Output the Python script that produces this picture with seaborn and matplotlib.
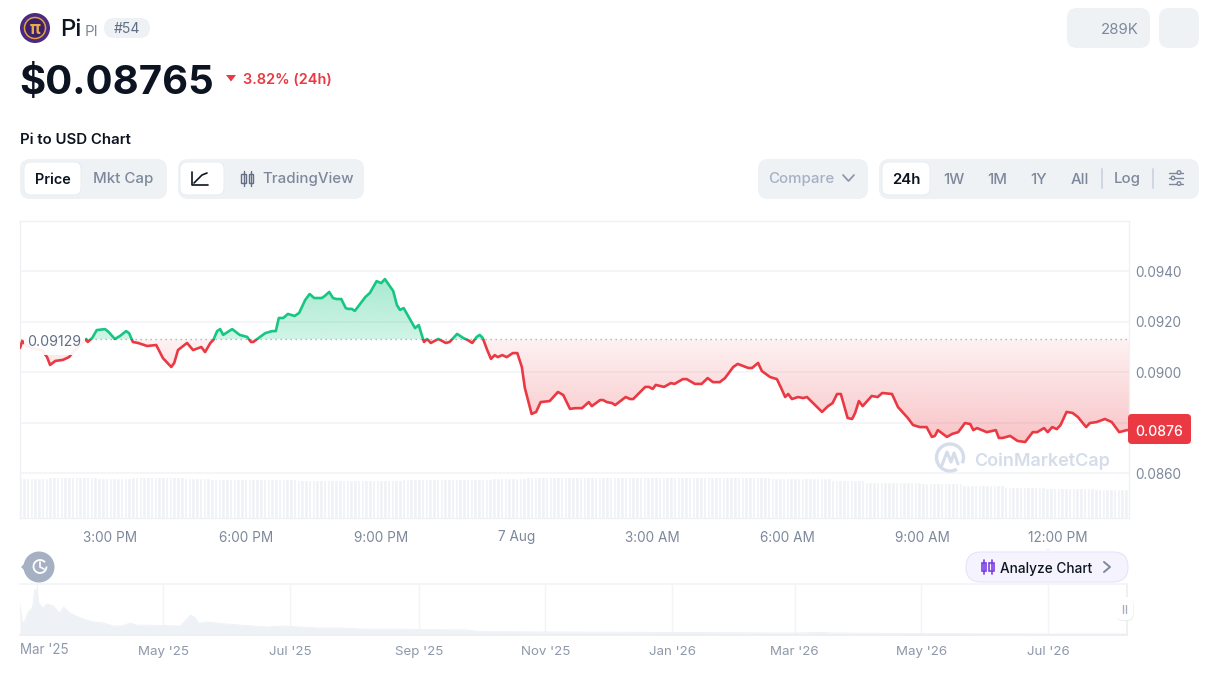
import numpy as np
import seaborn as sns
import matplotlib
matplotlib.use("Agg")
import matplotlib.pyplot as plt
from matplotlib.patches import FancyBboxPatch, Circle, Rectangle, Polygon, Arc

# 24h price, minutes after 1:00 PM on 6 Aug
minutes = [0, 3, 9, 20, 29, 36, 40, 47, 57, 65, 72, 80, 88, 90, 96, 102, 113, 118, 126, 133, 141, 145, 150, 157, 169, 181,
           190, 201, 205, 210, 222, 230, 241, 246, 253, 257, 262, 266, 270, 282, 292, 302, 307, 310, 319, 326, 335, 340,
           344, 350, 356, 365, 371, 379, 385, 391, 401, 405, 411, 416, 421, 427, 433, 436, 441, 445, 459, 465, 474, 480,
           485, 496, 501, 505, 510, 525, 530, 536, 537, 541, 546, 556, 566, 571, 581, 589, 595, 601, 607, 611, 615, 621,
           626, 631, 635, 641, 647, 655, 661, 667, 671, 680, 686, 692, 704, 715, 722, 731, 738, 747, 756, 760, 771, 775,
           780, 787, 791, 805, 811, 815, 831, 836, 841, 845, 856, 865, 870, 881, 886, 897, 906, 914, 921, 930, 937, 948,
           954, 968, 973, 981, 986, 997, 1006, 1011, 1017, 1021, 1026, 1034, 1041, 1046, 1066, 1074, 1080, 1086, 1091,
           1100, 1106, 1110, 1115, 1120, 1132, 1140, 1146, 1159, 1167, 1180, 1187, 1196, 1205, 1212, 1216, 1220, 1232,
           1239, 1247, 1256, 1263, 1267, 1272, 1285, 1297, 1301, 1306, 1316, 1326, 1336, 1346, 1352, 1361, 1366, 1372,
           1378, 1383, 1391, 1399, 1406, 1417, 1422, 1431, 1442, 1451, 1461, 1466, 1471, 1474]
prices = [.09095, .09123, .09103, .09091, .09087, .09059, .09028, .09044, .09048, .09059, .09083, .09107, .09131, .09119,
          .09135, .09166, .09170, .09158, .09131, .09143, .09162, .09154, .09119, .09115, .09103, .09107, .09055, .09020,
          .09036, .09087, .09115, .09087, .09099, .09079, .09115, .09127, .09162, .09170, .09147, .09170, .09147, .09139,
          .09119, .09119, .09139, .09154, .09162, .09162, .09214, .09214, .09230, .09222, .09234, .09285, .09309, .09293,
          .09293, .09301, .09317, .09293, .09289, .09289, .09253, .09250, .09250, .09242, .09297, .09313, .09360, .09352,
          .09368, .09321, .09265, .09246, .09253, .09174, .09186, .09127, .09119, .09131, .09115, .09131, .09115, .09119,
          .09151, .09135, .09127, .09115, .09139, .09147, .09135, .09087, .09052, .09067, .09059, .09067, .09059, .09075,
          .09075, .09020, .08937, .08834, .08842, .08881, .08885, .08921, .08909, .08854, .08857, .08857, .08881, .08865,
          .08889, .08889, .08881, .08877, .08869, .08901, .08893, .08893, .08941, .08941, .08933, .08949, .08941, .08956,
          .08953, .08972, .08972, .08953, .08953, .08976, .08960, .08960, .08976, .09020, .09032, .09016, .09016, .09036,
          .09004, .08980, .08972, .08941, .08901, .08913, .08893, .08901, .08897, .08901, .08842, .08865, .08877, .08913,
          .08913, .08818, .08814, .08838, .08885, .08865, .08905, .08901, .08917, .08913, .08861, .08818, .08790, .08782,
          .08782, .08743, .08747, .08770, .08743, .08755, .08762, .08798, .08794, .08770, .08778, .08762, .08770, .08739,
          .08739, .08747, .08727, .08723, .08762, .08762, .08778, .08762, .08782, .08774, .08790, .08842, .08838, .08822,
          .08782, .08798, .08802, .08814, .08802, .08762, .08766, .08770, .08770]
base_price = 0.09129

# volume steps: level and how many 5 minute bars stay at it
vol_levels = [40, 41, 40, 41, 40, 39, 39, 38, 38, 39, 40, 41, 40, 38, 36.5, 35, 33, 31.5, 30, 29]
vol_counts = [8, 13, 9, 14, 7, 14, 9, 7, 21, 24, 9, 65, 16, 9, 15, 11, 11, 11, 13, 10]
volume = np.repeat(vol_levels, vol_counts)
vol_minutes = np.arange(len(volume)) * 5

price_ticks = [0.0860, 0.0880, 0.0900, 0.0920, 0.0940]
price_labels = ["0.0860", "", "0.0900", "0.0920", "0.0940"]
time_ticks = [120, 300, 480, 660, 840, 1020, 1200, 1380]
time_labels = ["3:00 PM", "6:00 PM", "9:00 PM", "7 Aug", "3:00 AM", "6:00 AM", "9:00 AM", "12:00 PM"]

# all time overview, days after 1 Mar 2025
nav_days = [-8, -7, -6, -4, -2, -1, 0, 1, 3, 5, 8, 11, 13, 16, 21, 27, 32, 37, 41, 45, 48, 69, 72, 74, 76, 78, 82, 91,
            111, 118, 135, 146, 157, 164, 175, 185, 207, 213, 245, 306, 365, 377, 384, 427, 487, 525]
nav_prices = [1.65, .72, .72, 1.27, 1.49, 2.48, 2.48, 1.76, 1.49, 1.71, 1.60, 1.21, 1.54, 1.21, .94, .72, .66, .50, .50,
              .66, .55, .50, .83, 1.10, .99, .66, .72, .61, .44, .50, .39, .39, .33, .33, .33, .30, .28, .19, .17, .14,
              .11, .14, .11, .08, .06, .06]
nav_ticks = [0, 61, 122, 184, 245, 306, 365, 426, 487]
nav_labels = ["", "May '25", "Jul '25", "Sep '25", "Nov '25", "Jan '26", "Mar '26", "May '26", "Jul '26"]

green = "#16c784"
red = "#ea3943"
grey = "#7d889b"
dark = "#0d1421"
pill = "#eff2f5"
line_grey = "#f2f4f7"

sns.set_theme(style="white")
plt.rcParams["font.family"] = ["Inter", "DejaVu Sans"]

W, H = 1220, 676
fig = plt.figure(figsize=(12.2, 6.76), dpi=100, facecolor="white")


def px_axes(x0, y0, x1, y1):
    return fig.add_axes([x0 / W, 1 - y1 / H, (x1 - x0) / W, (y1 - y0) / H])


# main chart ---------------------
ax = px_axes(20, 221, 1129, 518)
ax2 = ax.twinx()
sns.barplot(x=vol_minutes, y=volume, native_scale=True, color="#eef1f5", saturation=1, width=0.94,
            errorbar=None, ax=ax2)
ax2.set_ylim(0, 297)
ax2.set_axis_off()
ax.set_zorder(ax2.get_zorder() + 1)
ax.patch.set_visible(False)

ymin, ymax = 0.08422, 0.09598
poly = ax.fill_between(minutes, prices, base_price, color="none")
clip = poly.get_paths()[0]


def gradient(rgb, a_top, a_bottom, y_top, y_bottom):
    arr = np.zeros((120, 1, 4))
    arr[:, :, :3] = matplotlib.colors.to_rgb(rgb)
    arr[:, 0, 3] = np.linspace(a_top, a_bottom, 120)
    im = ax.imshow(arr, extent=[0, 1474, y_bottom, y_top], aspect="auto", origin="upper", zorder=1.5)
    im.set_clip_path(clip, transform=ax.transData)


gradient(green, 0.38, 0.2, 0.0937, base_price)
gradient(red, 0.07, 0.3, base_price, 0.0872)

ax.axhline(base_price, color="#a6b0c3", lw=1, dashes=(1, 2.6), zorder=2)

sns.lineplot(x=minutes, y=prices, color=green, lw=1.9, errorbar=None, sort=False, ax=ax, zorder=3)
sns.lineplot(x=minutes, y=prices, color=red, lw=1.9, errorbar=None, sort=False, ax=ax, zorder=3)
ax.lines[-2].set_clip_path(Rectangle((0, base_price), 1474, 0.01, transform=ax.transData))
ax.lines[-1].set_clip_path(Rectangle((0, ymin), 1474, base_price - ymin, transform=ax.transData))

ax.set_xlim(0, 1474)
ax.set_ylim(ymin, ymax)
ax.set_xticks(time_ticks, time_labels)
ax.set_yticks(price_ticks, price_labels)
ax.yaxis.tick_right()
ax.grid(axis="y", color=line_grey, lw=1.2)
ax.set_axisbelow(True)
ax.tick_params(axis="x", length=0, pad=9, labelsize=9.8, labelcolor=grey)
ax.tick_params(axis="y", length=0, pad=4.5, labelsize=9.8, labelcolor=grey)
for s in ax.spines.values():
    s.set_color("#eff1f4")
    s.set_linewidth(1)
for s in ax2.spines.values():
    s.set_visible(False)

# the base price label sits on a white plate that hides the line behind it
ax.add_patch(Rectangle((5, 0.09067), 81, 0.00087, fc="white", ec="none", alpha=0.93, zorder=4))
ax.text(10, 0.09119, "0.09129", fontsize=10.2, color="#616e85", va="center", ha="left", zorder=5)

# overview strip -----------------
nav = px_axes(20, 584, 1127, 635)
sns.lineplot(x=nav_days, y=nav_prices, color="#eef1f5", lw=0.6, errorbar=None, ax=nav)
nav.fill_between(nav_days, nav_prices, 0, color="#eef1f5", lw=0)
nav.set_xlim(-8, 525)
nav.set_ylim(0, 2.8)
nav.set_xticks(nav_ticks, nav_labels)
nav.set_yticks([])
nav.grid(axis="x", color=line_grey, lw=1)
nav.set_axisbelow(True)
nav.tick_params(axis="x", length=0, pad=8, labelsize=9.6, labelcolor="#8e98aa")
for k, s in nav.spines.items():
    s.set_color("#eceff3")
nav.spines["left"].set_visible(False)
nav.spines["top"].set_color(line_grey)

# page chrome, in pixels ---------
ui = fig.add_axes([0, 0, 1, 1], zorder=10)
ui.set_xlim(0, W)
ui.set_ylim(H, 0)
ui.axis("off")
ui.patch.set_visible(False)


def box(x0, y0, x1, y1, r, fc, ec="none", lw=0, z=1):
    ui.add_patch(FancyBboxPatch((x0 + r, y0 + r), x1 - x0 - 2 * r, y1 - y0 - 2 * r,
                                boxstyle=f"round,pad={r},rounding_size={r}", fc=fc, ec=ec, lw=lw, zorder=z))


def label(x, y, s, size=14, color=grey, weight="normal", ha="center", z=3):
    ui.text(x, y, s, fontsize=size * 0.72, color=color, fontweight=weight, ha=ha, va="center_baseline", zorder=z)


def stroke(xs, ys, color, lw=1.2, z=3):
    ui.plot(xs, ys, color=color, lw=lw, solid_capstyle="round", zorder=z)


# header
ui.add_patch(Circle((35, 28), 15, fc="#4b2a80", ec="none"))
ui.add_patch(Circle((35, 28), 10.5, fc="#3d2168", ec="#e0a23f", lw=1.1, zorder=2))
label(35, 28, "π", 17, "#e9ab4a", "bold", z=3)
label(60, 27, "Pi", 24, dark, "medium", "left")
label(85, 30, "PI", 15, grey, ha="left")
box(104, 18, 150, 38, 10, pill)
label(126.5, 27.5, "#54", 14, "#616e85")
label(19, 79, "$0.08765", 40, dark, "bold", "left")
ui.add_patch(Polygon([(226, 75), (236, 75), (231, 81.5)], fc=red, ec="none"))
label(243, 78, "3.82% (24h)", 14.5, red, "semibold", "left")
label(20, 139, "Pi to USD Chart", 15, dark, "semibold", "left")
box(1067, 8, 1150, 48, 10, pill)
label(1139, 28, "289K", 15, grey, ha="right")
box(1159, 8, 1199, 48, 10, pill)

# left toggles
box(20, 159, 167, 199, 10, pill)
box(24, 162, 81, 195, 7, "white", "#e6e9ee", 0.6, 2)
label(52.5, 178, "Price", 14.5, dark, "semibold")
label(123, 178, "Mkt Cap", 15, grey, "medium")
box(178, 159, 364, 199, 10, pill)
box(180, 162, 224, 195, 7, "white", "#e6e9ee", 0.6, 2)
stroke([192, 192, 208], [172, 185, 185], dark, 1.2)
stroke([194, 199, 202, 207], [183, 178, 175, 173], dark, 1.2)
for cx in (243.5, 251):
    ui.add_patch(Rectangle((cx - 2.2, 174), 4.4, 9, fc="none", ec="#616e85", lw=1, zorder=3))
    stroke([cx, cx], [171, 186], "#616e85", 1)
label(262, 178, "TradingView", 15, grey, "medium", "left")

# right toggles
box(758, 159, 868, 199, 10, pill)
label(801, 178, "Compare", 15, "#a6b0c3", "medium")
stroke([843, 848.5, 854], [175, 181, 175], "#8e98aa", 1.3)
box(879, 159, 1199, 199, 10, pill)
box(882, 162, 930, 195, 7, "white", "#e6e9ee", 0.6, 2)
label(906, 178, "24h", 15, dark, "semibold")
for x, s in zip((953.5, 997, 1039, 1080, 1127), ("1W", "1M", "1Y", "All", "Log")):
    label(x, 178, s, 15, grey, "medium")
for x in (1101.5, 1153):
    stroke([x, x], [169, 188], "#cfd6e4", 1.4)
for y, cx in ((172.5, 1179), (178, 1173), (183.5, 1179)):
    stroke([1169, 1183], [y, y], "#7d889b", 1)
    ui.add_patch(Circle((cx, y), 1.8, fc=pill, ec="#7d889b", lw=1, zorder=4))

# price tag
box(1128, 414, 1191, 444, 4, red, z=4)
label(1159, 430, "0.0876", 14, "white", "medium", z=5)

# watermark
ui.add_patch(Arc((950, 457.5), 27, 27, theta1=60, theta2=385, ec="#d5dcea", lw=2.4, zorder=3))
stroke([942, 947, 951, 954, 958], [465, 452, 462, 453, 464], "#d5dcea", 2.2)
label(974, 459, "CoinMarketCap", 18, "#d5dcea", "semibold", "left")

# history button and analyze pill
ui.add_patch(Polygon([(21, 567), (33, 555), (33, 579)], fc="#a6b0c3", ec="none"))
ui.add_patch(Circle((39, 567), 15.5, fc="#a6b0c3", ec="none", zorder=2))
ui.add_patch(Arc((40, 566.5), 13, 13, theta1=0, theta2=320, ec="white", lw=1.3, zorder=3))
stroke([40, 40, 44], [562, 567, 569], "white", 1.2)
box(966, 552, 1128, 582, 15, "#f4f3fe", "#e6e4fb", 0.8)
ui.add_patch(Polygon([(1043, 552.5), (1048, 548), (1053, 552.5)], fc="#f4f3fe", ec="none", zorder=2))
for cx in (984, 991.5):
    ui.add_patch(Rectangle((cx - 2.2, 563), 4.4, 8, fc="none", ec="#7b3fe4", lw=1.2, zorder=3))
    stroke([cx, cx], [560, 574], "#7b3fe4", 1.2)
label(1000, 567, "Analyze Chart", 13.6, dark, "medium", "left")
stroke([1104, 1110, 1104], [562, 567, 572], "#7d889b", 1.4)

# overview labels and handle
label(20, 649, "Mar '25", 13.4, "#8e98aa", ha="left")
box(1116.5, 598, 1133.5, 621, 6, "#e9edf2", z=2)
box(1116, 597, 1133, 620, 6, "white", z=3)
stroke([1122.5, 1122.5], [605, 613], "#a6b0c3", 1, z=4)
stroke([1126, 1126], [605, 613], "#a6b0c3", 1, z=4)

fig.savefig("out.png", dpi=100)
